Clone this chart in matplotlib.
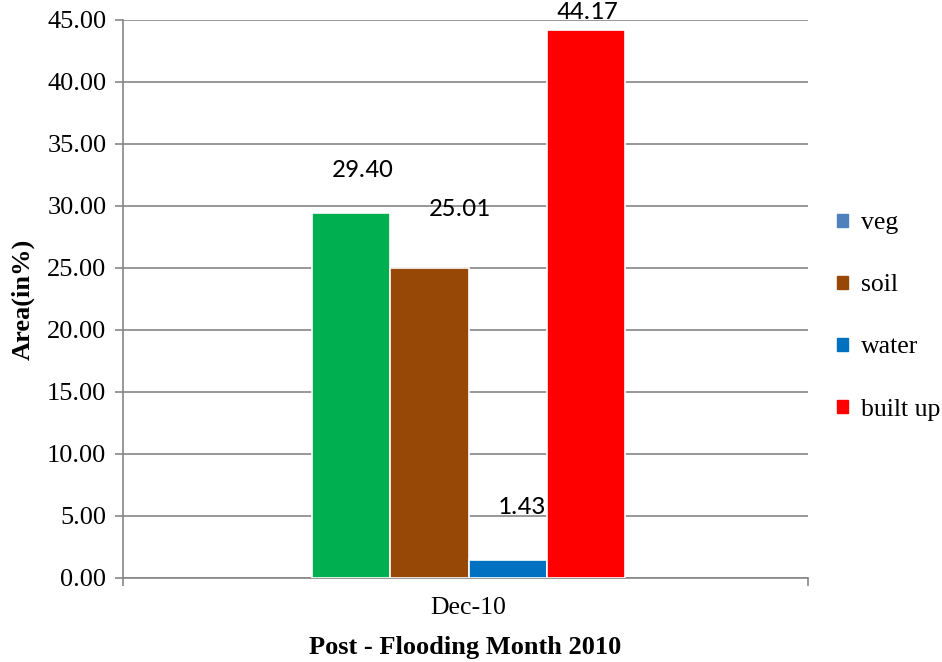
import matplotlib.pyplot as plt

# ==== Land cover shares after the flood ====
category = "Dec-10"
classes = ["veg", "soil", "water", "built up"]
area_pct = [29.40, 25.01, 1.43, 44.17]

bar_colors = ["#00B050", "#974706", "#0070C0", "#FF0000"]
legend_colors = ["#4F81BD", "#974706", "#0070C0", "#FF0000"]
# label offsets (points) relative to the top centre of each bar
label_offsets = [(8.5, 31.5), (21.5, 42.5), (10, 39), (1, 13.5)]

serif = ["Liberation Serif", "DejaVu Serif"]
sans = ["Carlito", "Lato", "DejaVu Sans"]

fig = plt.figure(figsize=(9.42, 6.62), dpi=100)
ax = fig.add_axes([0.1306, 0.1269, 0.7271, 0.8429])

center = 0.5044
width = 0.1142
grid_col = "#868686"

for i, (name, val) in enumerate(zip(classes, area_pct)):
    x = center + (i - 1.5) * width
    ax.bar(x, val, width=width, color=bar_colors[i], edgecolor="white",
           linewidth=1.2, zorder=3)
    dx, dy = label_offsets[i]
    ax.annotate(f"{val:.2f}", (x, val), xytext=(dx, dy),
                textcoords="offset points", ha="center", va="center",
                fontsize=19.5, family=sans, color="black",
                annotation_clip=False, zorder=4)

ax.set_xlim(0, 1)
ax.set_ylim(0, 45)
ax.set_yticks([i * 5 for i in range(10)])
ax.set_yticklabels([f"{i * 5:.2f}" for i in range(10)], family=serif, fontsize=19)
ax.yaxis.grid(True, color=grid_col, linewidth=1.2, zorder=0)

ax.set_xticks([center])
ax.set_xticklabels([category], family=serif, fontsize=18.5)
ax.tick_params(axis="x", which="major", length=0, pad=14)
ax.set_xticks([0, 1], minor=True)
ax.tick_params(axis="x", which="minor", length=6, color=grid_col, width=1.2)
ax.tick_params(axis="y", length=6, color=grid_col, width=1.2, pad=6)

for side in ["top", "right"]:
    ax.spines[side].set_visible(False)
for side in ["left", "bottom"]:
    ax.spines[side].set_color(grid_col)
    ax.spines[side].set_linewidth(1.2)

ax.set_xlabel("Post - Flooding Month 2010", family=serif, fontsize=19,
              fontweight="bold", labelpad=12)
ax.set_ylabel("Area(in%)", family=serif, fontsize=19, fontweight="bold",
              labelpad=9)

handles = [plt.Rectangle((0, 0), 1, 1, color=c) for c in legend_colors]
fig.legend(handles, classes, loc="center left", bbox_to_anchor=(0.889, 0.522),
           frameon=False, prop={"family": serif, "size": 18.5},
           handlelength=0.4, handleheight=0.4, handletextpad=0.5,
           labelspacing=1.56, borderaxespad=0, borderpad=0)

fig.savefig("out.png", dpi=100)
